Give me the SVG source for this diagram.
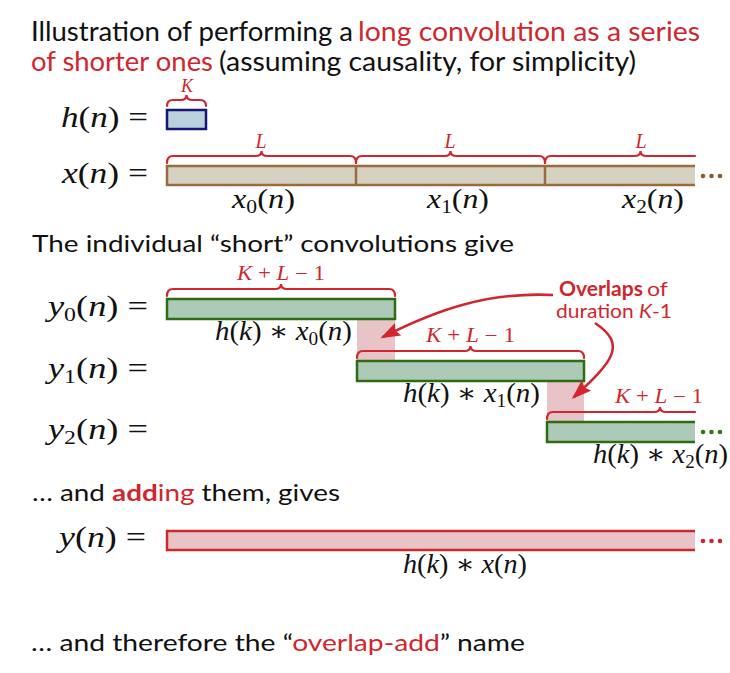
<svg xmlns="http://www.w3.org/2000/svg" width="730" height="673" viewBox="0 0 730 673">
<style>
.t{font-family:Lato,"Open Sans",sans-serif;fill:#111}
.m{font-family:"Liberation Serif","DejaVu Serif",serif;fill:#111}
.i{font-style:italic}
.r{fill:#d0262d}
.b{font-weight:bold}
.brace{fill:none;stroke:#d0262d;stroke-width:2.2;stroke-linecap:round}
.grn{fill:#adc9b7;stroke:#2e6b12;stroke-width:2.5}
.pink{fill:#e8c3c7}
.arr{fill:none;stroke:#d0262d;stroke-width:2.6}
</style>
<defs>
<marker id="ah" markerUnits="userSpaceOnUse" markerWidth="22" markerHeight="16" refX="17" refY="7" orient="auto">
<path d="M0,0 L20,7 L0,14 L3,7 z" fill="#d0262d"/>
</marker>
</defs>

<g id="title">
<text class="t" x="31" y="41" font-size="26" textLength="322" lengthAdjust="spacingAndGlyphs">Illustration of performing a</text>
<text class="t r" x="358" y="41" font-size="26" textLength="342" lengthAdjust="spacingAndGlyphs">long convolution as a series</text>
<text class="t r" x="31" y="71" font-size="26" textLength="182" lengthAdjust="spacingAndGlyphs">of shorter ones</text>
<text class="t" x="219" y="71" font-size="26" textLength="417" lengthAdjust="spacingAndGlyphs">(assuming causality, for simplicity)</text>
</g>

<g id="h-signal">
<text class="m" x="61" y="127" font-size="29" textLength="87" lengthAdjust="spacingAndGlyphs"><tspan class="i">h</tspan>(<tspan class="i">n</tspan>) =</text>
<rect x="167" y="110" width="39" height="19" fill="#b9d2dc" stroke="#14167a" stroke-width="2.5"/>
<path class="brace" d="M167 106 Q167 100 173 100 H180.5 Q186.5 100 186.5 95 Q186.5 100 192.5 100 H200 Q206 100 206 106"/>
<text class="m i r" x="187" y="92" font-size="18" text-anchor="middle">K</text>
</g>

<g id="x-signal">
<text class="m" x="62" y="183" font-size="29" textLength="86" lengthAdjust="spacingAndGlyphs"><tspan class="i">x</tspan>(<tspan class="i">n</tspan>) =</text>
<rect x="167" y="166" width="528" height="19" fill="#d6d2c3"/>
<path d="M695 166 H167 V185 H695 M356 166 V185 M545 166 V185" fill="none" stroke="#9b6b3c" stroke-width="2.5"/>
<g fill="#8b5a2b"><circle cx="703" cy="176" r="2.3"/><circle cx="711.5" cy="176" r="2.3"/><circle cx="720" cy="176" r="2.3"/></g>
<path class="brace" d="M167 163 Q167 156 173 156 H255.5 Q261.5 156 261.5 151 Q261.5 156 267.5 156 H350 Q356 156 356 163"/>
<path class="brace" d="M356 163 Q356 156 362 156 H444.5 Q450.5 156 450.5 151 Q450.5 156 456.5 156 H539 Q545 156 545 163"/>
<path class="brace" d="M545 163 Q545 156 551 156 H634.5 Q640.5 156 640.5 151 Q640.5 156 646.5 156 H695"/>
<text class="m i r" x="261" y="148" font-size="20" text-anchor="middle">L</text>
<text class="m i r" x="450" y="148" font-size="20" text-anchor="middle">L</text>
<text class="m i r" x="641" y="148" font-size="20" text-anchor="middle">L</text>
<text class="m" x="232" y="208" font-size="27" textLength="63" lengthAdjust="spacingAndGlyphs"><tspan class="i">x</tspan><tspan font-size="18" dy="5">0</tspan><tspan dy="-5">(</tspan><tspan class="i">n</tspan>)</text>
<text class="m" x="427" y="208" font-size="27" textLength="62" lengthAdjust="spacingAndGlyphs"><tspan class="i">x</tspan><tspan font-size="18" dy="5">1</tspan><tspan dy="-5">(</tspan><tspan class="i">n</tspan>)</text>
<text class="m" x="622" y="208" font-size="27" textLength="62" lengthAdjust="spacingAndGlyphs"><tspan class="i">x</tspan><tspan font-size="18" dy="5">2</tspan><tspan dy="-5">(</tspan><tspan class="i">n</tspan>)</text>
</g>

<text class="t" x="32" y="252" font-size="23" textLength="482" lengthAdjust="spacingAndGlyphs">The individual “short” convolutions give</text>

<g id="overlaps">
<rect class="pink" x="357" y="319" width="38" height="42"/>
<rect class="pink" x="547" y="381" width="37" height="41"/>
</g>

<g id="y0">
<text class="m" x="48" y="316" font-size="29" textLength="100" lengthAdjust="spacingAndGlyphs"><tspan class="i">y</tspan><tspan font-size="19" dy="5">0</tspan><tspan dy="-5">(</tspan><tspan class="i">n</tspan>) =</text>
<rect class="grn" x="167" y="299" width="228" height="20"/>
<path class="brace" d="M167 296 Q167 289 173 289 H275 Q281 289 281 284 Q281 289 287 289 H389 Q395 289 395 296"/>
<text class="m r" x="281" y="280" font-size="20" text-anchor="middle" textLength="88" lengthAdjust="spacingAndGlyphs"><tspan class="i">K</tspan> + <tspan class="i">L</tspan> − 1</text>
<text class="m" x="215" y="340" font-size="27" textLength="137" lengthAdjust="spacingAndGlyphs"><tspan class="i">h</tspan>(<tspan class="i">k</tspan>) ∗ <tspan class="i">x</tspan><tspan font-size="18" dy="5">0</tspan><tspan dy="-5">(</tspan><tspan class="i">n</tspan>)</text>
</g>

<g id="y1">
<text class="m" x="48" y="378" font-size="29" textLength="100" lengthAdjust="spacingAndGlyphs"><tspan class="i">y</tspan><tspan font-size="19" dy="5">1</tspan><tspan dy="-5">(</tspan><tspan class="i">n</tspan>) =</text>
<rect class="grn" x="357" y="361" width="227" height="20"/>
<path class="brace" d="M357 358 Q357 351 363 351 H464.5 Q470.5 351 470.5 346 Q470.5 351 476.5 351 H578 Q584 351 584 358"/>
<text class="m r" x="470.5" y="342" font-size="20" text-anchor="middle" textLength="89" lengthAdjust="spacingAndGlyphs"><tspan class="i">K</tspan> + <tspan class="i">L</tspan> − 1</text>
<text class="m" x="403" y="402" font-size="27" textLength="137" lengthAdjust="spacingAndGlyphs"><tspan class="i">h</tspan>(<tspan class="i">k</tspan>) ∗ <tspan class="i">x</tspan><tspan font-size="18" dy="5">1</tspan><tspan dy="-5">(</tspan><tspan class="i">n</tspan>)</text>
</g>

<g id="y2">
<text class="m" x="48" y="439" font-size="29" textLength="100" lengthAdjust="spacingAndGlyphs"><tspan class="i">y</tspan><tspan font-size="19" dy="5">2</tspan><tspan dy="-5">(</tspan><tspan class="i">n</tspan>) =</text>
<rect x="547" y="422" width="148" height="20" fill="#adc9b7"/>
<path d="M695 422 H547 V442 H695" fill="none" stroke="#2e6b12" stroke-width="2.5"/>
<g fill="#2e7a12"><circle cx="703" cy="432" r="2.3"/><circle cx="711.5" cy="432" r="2.3"/><circle cx="720" cy="432" r="2.3"/></g>
<path class="brace" d="M547 419 Q547 412 553 412 H654 Q660 412 660 407 Q660 412 666 412 H695"/>
<text class="m r" x="659" y="403" font-size="20" text-anchor="middle" textLength="88" lengthAdjust="spacingAndGlyphs"><tspan class="i">K</tspan> + <tspan class="i">L</tspan> − 1</text>
<text class="m" x="593" y="463" font-size="27" textLength="135" lengthAdjust="spacingAndGlyphs"><tspan class="i">h</tspan>(<tspan class="i">k</tspan>) ∗ <tspan class="i">x</tspan><tspan font-size="18" dy="5">2</tspan><tspan dy="-5">(</tspan><tspan class="i">n</tspan>)</text>
</g>

<g id="overlap-label">
<text class="t r b" x="559" y="296" font-size="20" textLength="84" lengthAdjust="spacingAndGlyphs">Overlaps</text>
<text class="t r" x="647" y="296" font-size="20" textLength="21" lengthAdjust="spacingAndGlyphs">of</text>
<text class="t r" x="556" y="318" font-size="20" textLength="116" lengthAdjust="spacingAndGlyphs">duration <tspan class="i">K</tspan>-1</text>
</g>

<g id="connectors">
<path class="arr" d="M553 295 C490 292, 440 308, 383 337" marker-end="url(#ah)"/>
<path class="arr" d="M595 323 C628 345, 612 362, 574 397" marker-end="url(#ah)"/>
</g>

<text class="t" x="32" y="501" font-size="23" textLength="308" lengthAdjust="spacingAndGlyphs">… and <tspan class="r b">add</tspan><tspan class="r">ing</tspan> them, gives</text>

<g id="y-sum">
<text class="m" x="59" y="547" font-size="29" textLength="87" lengthAdjust="spacingAndGlyphs"><tspan class="i">y</tspan>(<tspan class="i">n</tspan>) =</text>
<rect x="167" y="531" width="528" height="19" fill="#e8c3c7"/>
<path d="M695 531 H167 V550 H695" fill="none" stroke="#cc2a2a" stroke-width="2.5"/>
<g fill="#d0262d"><circle cx="703" cy="541" r="2.3"/><circle cx="711.5" cy="541" r="2.3"/><circle cx="720" cy="541" r="2.3"/></g>
<text class="m" x="403" y="573" font-size="27" textLength="124" lengthAdjust="spacingAndGlyphs"><tspan class="i">h</tspan>(<tspan class="i">k</tspan>) ∗ <tspan class="i">x</tspan>(<tspan class="i">n</tspan>)</text>
</g>

<text class="t" x="31" y="651" font-size="23" textLength="494" lengthAdjust="spacingAndGlyphs">… and therefore the “<tspan class="r">overlap-add</tspan>” name</text>
</svg>
